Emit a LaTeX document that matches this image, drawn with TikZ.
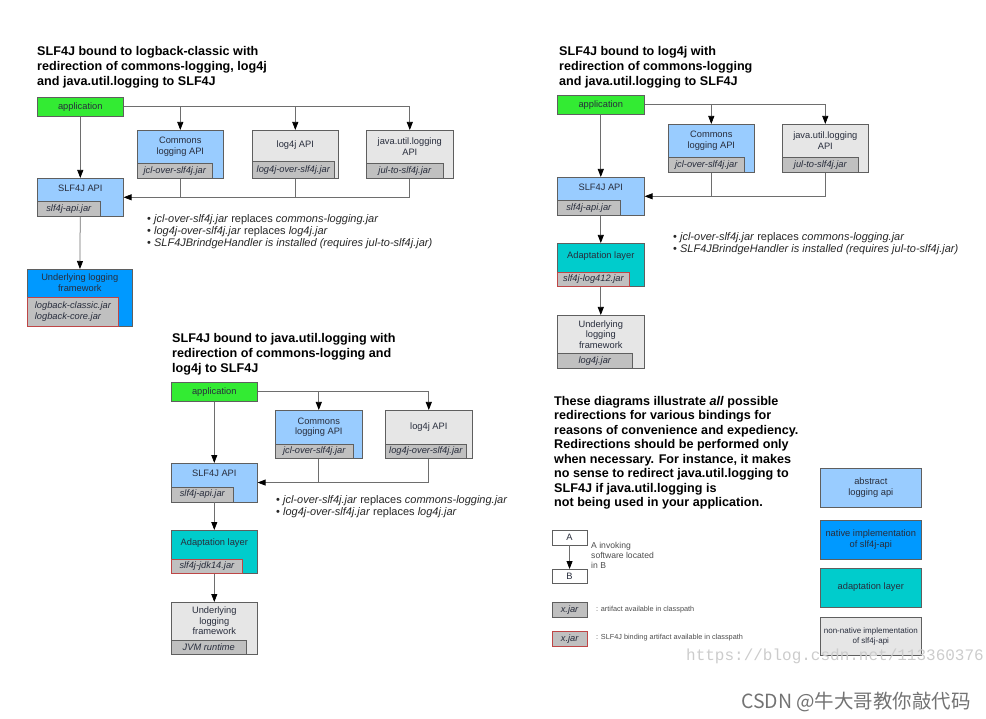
\documentclass[tikz,border=0pt]{standalone}
\usepackage{fontspec}
\setmainfont{Liberation Sans}
\newfontfamily\cjkfont{Noto Sans CJK SC}
\newfontfamily\urlfont{Liberation Mono}
\usetikzlibrary{calc,arrows.meta}
\definecolor{appgreen}{RGB}{51,235,51}
\definecolor{apiblue}{RGB}{153,204,255}
\definecolor{nativeblue}{RGB}{0,153,255}
\definecolor{adaptteal}{RGB}{0,204,204}
\definecolor{othergray}{RGB}{230,230,230}
\definecolor{jargray}{RGB}{192,192,192}
\definecolor{bindred}{RGB}{190,70,70}
\definecolor{boxline}{RGB}{95,95,95}
\definecolor{linegray}{RGB}{110,110,110}
\definecolor{textgray}{RGB}{40,45,60}
\def\boxfont{\fontsize{9.3}{10.5}\selectfont}
\def\jarfont{\fontsize{9.3}{10.5}\selectfont\itshape}
\def\titlefont{\fontsize{12.6}{15}\selectfont\bfseries}
\def\notefont{\fontsize{11}{12.3}\selectfont}
\def\keyfont{\fontsize{9.3}{11}\selectfont}
\def\tinyfont{\fontsize{7.3}{8}\selectfont}
\tikzset{
  box/.style={draw=boxline, line width=0.6pt, anchor=north west, inner sep=0pt, font=\boxfont, text=textgray, align=center},
  appbox/.style={box, fill=appgreen},
  apibox/.style={box, fill=apiblue},
  nativebox/.style={box, fill=nativeblue},
  adaptbox/.style={box, fill=adaptteal},
  otherbox/.style={box, fill=othergray},
  jarbox/.style={draw=boxline, line width=0.6pt, fill=jargray, anchor=south west, inner sep=0pt, minimum height=14.5pt, font=\jarfont, text=textgray},
  bindjar/.style={jarbox, draw=bindred, line width=0.8pt},
  boxtext/.style={font=\boxfont, text=textgray, align=center, inner sep=0pt},
  title/.style={anchor=north west, align=left, inner sep=0pt, font=\titlefont},
  note/.style={anchor=north west, align=left, inner sep=0pt, font=\notefont, text=black!85},
  wire/.style={draw=linegray, line width=0.75pt},
  link/.style={wire, -{Triangle[length=8pt,width=6pt,color=black]}},
}

\begin{document}
\begin{tikzpicture}[x=1pt,y=-1pt]
		\useasboundingbox (0,0) rectangle (986,719);
		%%%%% logback-classic %%%%%
		\node[title] (t1) at (37,46.5) {SLF4J bound to logback-classic with\\redirection of commons-logging, log4j\\and java.util.logging to SLF4J};
		
		\node[appbox, minimum width=86pt, minimum height=19pt] (app1) at (37,97) {application};
		
		\node[apibox, minimum width=86pt, minimum height=48pt] (cl1) at (137,130) {};
		\node[jarbox, minimum width=75pt] (cl1jar) at (cl1.south west) {jcl-over-slf4j.jar};
		\node[boxtext] (cl1txt) at ($(cl1.north)!.5!(cl1.north |- cl1jar.north)$) {Commons\\logging API};
		
		\node[otherbox, minimum width=86pt, minimum height=48pt] (l4j1) at (252,130) {};
		\node[jarbox, minimum width=82pt, minimum height=17pt] (l4j1jar) at (l4j1.south west) {log4j-over-slf4j.jar};
		\node[boxtext] (l4j1txt) at ($(l4j1.north)!.5!(l4j1.north |- l4j1jar.north)$) {log4j API};
		
		\node[otherbox, minimum width=87pt, minimum height=48pt] (jul1) at (366,130) {};
		\node[jarbox, minimum width=77pt] (jul1jar) at (jul1.south west) {jul-to-slf4j.jar};
		\node[boxtext] (jul1txt) at ($(jul1.north)!.5!(jul1.north |- jul1jar.north)$) {java.util.logging\\API};
		
		\node[apibox, minimum width=86pt, minimum height=38pt] (slf1) at (37,178) {};
		\node[jarbox, minimum width=63pt] (slf1jar) at (slf1.south west) {slf4j-api.jar};
		\node[boxtext] (slf1txt) at ($(slf1.north)!.42!(slf1.north |- slf1jar.north)$) {SLF4J API};
		
		\node[nativebox, minimum width=105pt, minimum height=57pt] (und1) at (27,269) {};
		\node[bindjar, minimum width=91pt, minimum height=29pt, align=left] (und1jar) at (und1.south west) {logback-classic.jar\\logback-core.jar};
		\node[boxtext] (und1txt) at ($(und1.north)!.5!(und1.north |- und1jar.north)$) {Underlying logging\\framework};
		
		\draw[link] (app1) -- (slf1);
		\draw[link] (app1.east) -| (jul1.north);
		\draw[link] (app1.east -| cl1.north) -- (cl1.north);
		\draw[link] (app1.east -| l4j1.north) -- (l4j1.north);
		\draw[link] (jul1.south) |- (slf1.east);
		\draw[wire] (cl1.south) -- (cl1.south |- slf1.east);
		\draw[wire] (l4j1.south) -- (l4j1.south |- slf1.east);
		\draw[link] (slf1) -- (und1);
		
		\node[note] (n1) at (147,214) {\textbullet\ \textit{jcl-over-slf4j.jar} replaces \textit{commons-logging.jar}\\\textbullet\ \textit{log4j-over-slf4j.jar} replaces \textit{log4j.jar}\\\textbullet\ \textit{SLF4JBrindgeHandler is installed (requires jul-to-slf4j.jar)}};
		
		%%%%% log4j %%%%%
		\node[title] (t2) at (559,46.5) {SLF4J bound to log4j with\\redirection of commons-logging\\and java.util.logging to SLF4J};
		
		\node[appbox, minimum width=87pt, minimum height=19pt] (app2) at (557,95) {application};
		
		\node[apibox, minimum width=86pt, minimum height=48pt] (cl2) at (668,124) {};
		\node[jarbox, minimum width=76pt, minimum height=15pt] (cl2jar) at (cl2.south west) {jcl-over-slf4j.jar};
		\node[boxtext] (cl2txt) at ($(cl2.north)!.5!(cl2.north |- cl2jar.north)$) {Commons\\logging API};
		
		\node[otherbox, minimum width=86pt, minimum height=48pt] (jul2) at (782,124) {};
		\node[jarbox, minimum width=76pt, minimum height=15pt] (jul2jar) at (jul2.south west) {jul-to-slf4j.jar};
		\node[boxtext] (jul2txt) at ($(jul2.north)!.5!(jul2.north |- jul2jar.north)$) {java.util.logging\\API};
		
		\node[apibox, minimum width=87pt, minimum height=38pt] (slf2) at (557,177) {};
		\node[jarbox, minimum width=63pt] (slf2jar) at (slf2.south west) {slf4j-api.jar};
		\node[boxtext] (slf2txt) at ($(slf2.north)!.42!(slf2.north |- slf2jar.north)$) {SLF4J API};
		
		\node[adaptbox, minimum width=87pt, minimum height=43.5pt] (ad2) at (557,243) {};
		\node[bindjar, minimum width=72pt] (ad2jar) at (ad2.south west) {slf4j-log412.jar};
		\node[boxtext] (ad2txt) at ($(ad2.north)!.45!(ad2.north |- ad2jar.north)$) {Adaptation layer};
		
		\node[otherbox, minimum width=87pt, minimum height=53pt] (und2) at (557,315) {};
		\node[jarbox, minimum width=75pt] (und2jar) at (und2.south west) {log4j.jar};
		\node[boxtext] (und2txt) at ($(und2.north)!.5!(und2.north |- und2jar.north)$) {Underlying\\logging\\framework};
		
		\draw[link] (app2) -- (slf2);
		\draw[link] (app2.east) -| (jul2.north);
		\draw[link] (app2.east -| cl2.north) -- (cl2.north);
		\draw[link] (jul2.south) |- (slf2.east);
		\draw[wire] (cl2.south) -- (cl2.south |- slf2.east);
		\draw[link] (slf2) -- (ad2);
		\draw[link] (ad2) -- (und2);
		
		\begin{scope}
			\clip (660,225) rectangle (958,262);
			\node[note] (n2) at (673,232) {\textbullet\ \textit{jcl-over-slf4j.jar} replaces \textit{commons-logging.jar}\\\textbullet\ \textit{SLF4JBrindgeHandler is installed (requires jul-to-slf4j.jar)}};
		\end{scope}
		
		%%%%% java.util.logging %%%%%
		\node[title] (t3) at (172,333.5) {SLF4J bound to java.util.logging with\\redirection of commons-logging and\\log4j to SLF4J};
		
		\node[appbox, minimum width=86pt, minimum height=19pt] (app3) at (171,382) {application};
		
		\node[apibox, minimum width=87pt, minimum height=48pt] (cl3) at (275,410) {};
		\node[jarbox, minimum width=78pt, minimum height=14pt] (cl3jar) at (cl3.south west) {jcl-over-slf4j.jar};
		\node[boxtext] (cl3txt) at ($(cl3.north)!.5!(cl3.north |- cl3jar.north)$) {Commons\\logging API};
		
		\node[otherbox, minimum width=87pt, minimum height=48pt] (l4j3) at (385,410) {};
		\node[jarbox, minimum width=81pt, minimum height=14pt] (l4j3jar) at (l4j3.south west) {log4j-over-slf4j.jar};
		\node[boxtext] (l4j3txt) at ($(l4j3.north)!.5!(l4j3.north |- l4j3jar.north)$) {log4j API};
		
		\node[apibox, minimum width=86pt, minimum height=38.5pt] (slf3) at (171,463) {};
		\node[jarbox, minimum width=62pt, minimum height=15pt] (slf3jar) at (slf3.south west) {slf4j-api.jar};
		\node[boxtext] (slf3txt) at ($(slf3.north)!.42!(slf3.north |- slf3jar.north)$) {SLF4J API};
		
		\node[adaptbox, minimum width=86pt, minimum height=43pt] (ad3) at (171,530) {};
		\node[bindjar, minimum width=71pt, minimum height=14pt] (ad3jar) at (ad3.south west) {slf4j-jdk14.jar};
		\node[boxtext] (ad3txt) at ($(ad3.north)!.45!(ad3.north |- ad3jar.north)$) {Adaptation layer};
		
		\node[otherbox, minimum width=86pt, minimum height=52pt] (und3) at (171,602) {};
		\node[jarbox, minimum width=75pt, minimum height=14pt] (und3jar) at (und3.south west) {JVM runtime};
		\node[boxtext] (und3txt) at ($(und3.north)!.5!(und3.north |- und3jar.north)$) {Underlying\\logging\\framework};
		
		\draw[link] (app3) -- (slf3);
		\draw[link] (app3.east) -| (l4j3.north);
		\draw[link] (app3.east -| cl3.north) -- (cl3.north);
		\draw[link] (l4j3.south) |- (slf3.east);
		\draw[wire] (cl3.south) -- (cl3.south |- slf3.east);
		\draw[link] (slf3) -- (ad3);
		\draw[link] (ad3) -- (und3);
		
		\node[note] (n3) at (276,495) {\textbullet\ \textit{jcl-over-slf4j.jar} replaces \textit{commons-logging.jar}\\\textbullet\ \textit{log4j-over-slf4j.jar} replaces \textit{log4j.jar}};
		
		%%%%% legend %%%%%
		\node[title, font=\fontsize{12.6}{14.5}\selectfont\bfseries] (expl) at (554,396) {These diagrams illustrate \textit{all} possible\\redirections for various bindings for\\reasons of convenience and expediency.\\Redirections should be performed only\\when necessary. For instance, it makes\\no sense to redirect java.util.logging to\\SLF4J if java.util.logging is\\not being used in your application.};
		
		\node[box, fill=white, minimum width=34.5pt, minimum height=14.5pt] (la) at (552,530) {A};
		\node[box, fill=white, minimum width=34.5pt, minimum height=14pt] (lb) at (552,569) {B};
		\draw[link] (la) -- (lb);
		\node[anchor=north west, align=left, inner sep=0pt, font=\fontsize{8.6}{10}\selectfont, text=black!70] (lab) at (591,542.5) {A invoking\\software located\\in B};
		
		\node[box, fill=jargray, minimum width=34.5pt, minimum height=15pt, font=\jarfont] (lx1) at (552,602) {x.jar};
		\node[anchor=west, inner sep=0pt, font=\tinyfont, text=black!70] (lx1txt) at (596,609.5) {: artifact available in classpath};
		\node[box, fill=jargray, draw=bindred, line width=0.8pt, minimum width=34.5pt, minimum height=14.5pt, font=\jarfont] (lx2) at (552,631) {x.jar};
		\node[anchor=west, inner sep=0pt, font=\tinyfont, text=black!70] (lx2txt) at (596,638) {: SLF4J binding artifact available in classpath};
		
		\node[apibox, minimum width=101pt, minimum height=39pt, font=\keyfont] (kabs) at (820,468) {abstract\\logging api};
		\node[nativebox, minimum width=101pt, minimum height=39pt, font=\keyfont] (knat) at (820,520) {native implementation\\of slf4j-api};
		\node[adaptbox, minimum width=101pt, minimum height=38.5pt, font=\keyfont] (kad) at (820,568) {adaptation layer};
		\node[otherbox, minimum width=101pt, minimum height=38pt, font=\fontsize{8}{9.5}\selectfont] (koth) at (820,617) {non-native implementation\\of slf4j-api};
		
		%%%%% watermark %%%%%
		\node[inner sep=0pt, font=\urlfont\fontsize{16}{18}\selectfont, text=black!20] (wurl) at (835,656) {https://blog.csdn.net/113360376};
		\node[inner sep=0pt, font=\cjkfont\fontsize{19.5}{22}\selectfont, text=black!55] (wname) at (856,702) {CSDN @牛大哥教你敲代码};
	\end{tikzpicture}
\end{document}
